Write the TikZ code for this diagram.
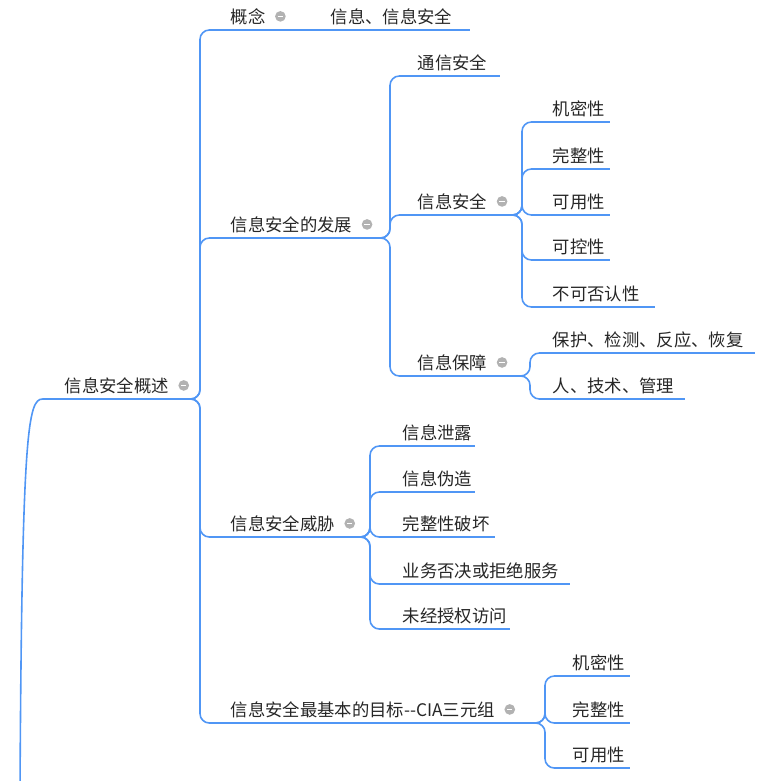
\documentclass[tikz,border=0pt]{standalone}
\usepackage{fontspec}
\setmainfont{Noto Sans CJK SC}
\usetikzlibrary{positioning}

\definecolor{mapblue}{RGB}{80,150,245}
\tikzset{every picture/.style={line width=1.2pt}}
\tikzset{
  topic/.style={anchor=south west, inner xsep=9pt, inner ysep=3.5pt,
                font=\fontsize{13}{15}\selectfont, text=black!85},
  link/.style={draw=mapblue, line width=1.2pt, rounded corners=7pt},
  fold/.style={circle, fill=black!30, minimum size=8pt, inner sep=0pt,
               path picture={\draw[white, line width=1pt]
                 ([xshift=-2pt]path picture bounding box.center) --
                 ([xshift=2pt]path picture bounding box.center);}}
}
\newcommand{\branch}[2]{\draw[link] (#1) -- ++(10,0) |- (#2.south west);}

\begin{document}
\begin{tikzpicture}[x=0.75pt, y=0.75pt, yscale=-1, xscale=1]
    \useasboundingbox (0,0) rectangle (764,781);

    % Root
    \node[topic] (root) at (52,399) {信息安全概述};
    \node[fold, right=-3pt of root.east] (root-f) {};
    \coordinate (root-e) at (190,399);
    \coordinate (lead) at (20,790);
    \draw[link] (lead) .. controls (22,430) and (28,399) .. (root.south west) -- (root-e);

    % Level 1
    \node[topic] (con) at (218,30) {概念};
    \node[fold, right=-3pt of con.east] (con-f) {};
    \coordinate (con-e) at (290,30);
    \node[topic] (def) at (318,30) {信息、信息安全};
    \coordinate (def-e) at (470,30);

    \node[topic] (dev) at (218,238) {信息安全的发展};
    \node[fold, right=-3pt of dev.east] (dev-f) {};
    \coordinate (dev-e) at (380,238);

    \node[topic] (thr) at (218,537) {信息安全威胁};
    \node[fold, right=-3pt of thr.east] (thr-f) {};
    \coordinate (thr-e) at (360,537);

    \node[topic] (cia) at (218,723) {信息安全最基本的目标-{}-CIA三元组};
    \node[fold, right=-3pt of cia.east] (cia-f) {};
    \coordinate (cia-e) at (535,723);

    % Level 2: development
    \node[topic] (com) at (405,76) {通信安全};
    \coordinate (com-e) at (500,76);
    \node[topic] (sec) at (405,215) {信息安全};
    \node[fold, right=-3pt of sec.east] (sec-f) {};
    \coordinate (sec-e) at (512,215);
    \node[topic] (ass) at (405,376) {信息保障};
    \node[fold, right=-3pt of ass.east] (ass-f) {};
    \coordinate (ass-e) at (520,376);

    % Level 3: security properties
    \node[topic] (s1) at (540,122) {机密性};
    \coordinate (s1-e) at (610,122);
    \node[topic] (s2) at (540,169) {完整性};
    \coordinate (s2-e) at (610,169);
    \node[topic] (s3) at (540,215) {可用性};
    \coordinate (s3-e) at (610,215);
    \node[topic] (s4) at (540,260) {可控性};
    \coordinate (s4-e) at (610,260);
    \node[topic] (s5) at (540,307) {不可否认性};
    \coordinate (s5-e) at (655,307);

    % Level 3: assurance
    \node[topic] (a1) at (540,353) {保护、检测、反应、恢复};
    \coordinate (a1-e) at (755,353);
    \node[topic] (a2) at (540,399) {人、技术、管理};
    \coordinate (a2-e) at (685,399);

    % Level 2: threats
    \node[topic] (t1) at (390,446) {信息泄露};
    \coordinate (t1-e) at (475,446);
    \node[topic] (t2) at (390,492) {信息伪造};
    \coordinate (t2-e) at (475,492);
    \node[topic] (t3) at (390,537) {完整性破坏};
    \coordinate (t3-e) at (495,537);
    \node[topic] (t4) at (390,584) {业务否决或拒绝服务};
    \coordinate (t4-e) at (570,584);
    \node[topic] (t5) at (390,629) {未经授权访问};
    \coordinate (t5-e) at (510,629);

    % Level 2: CIA
    \node[topic] (c1) at (560,676) {机密性};
    \coordinate (c1-e) at (630,676);
    \node[topic] (c2) at (560,723) {完整性};
    \coordinate (c2-e) at (630,723);
    \node[topic] (c3) at (560,768) {可用性};
    \coordinate (c3-e) at (630,768);

    % Underlines
    \foreach \n in {con,def,dev,thr,cia,com,sec,ass,s1,s2,s3,s4,s5,a1,a2,t1,t2,t3,t4,t5,c1,c2,c3}
      \draw[link] (\n.south west) -- (\n-e);

    % Branches
    \foreach \c in {con,dev,thr,cia} {\branch{root-e}{\c}}
    \draw[link] (con-e) -- (def.south west);
    \foreach \c in {com,sec,ass} {\branch{dev-e}{\c}}
    \foreach \c in {s1,s2,s3,s4,s5} {\branch{sec-e}{\c}}
    \foreach \c in {a1,a2} {\branch{ass-e}{\c}}
    \foreach \c in {t1,t2,t3,t4,t5} {\branch{thr-e}{\c}}
    \foreach \c in {c1,c2,c3} {\branch{cia-e}{\c}}

\end{tikzpicture}
\end{document}
